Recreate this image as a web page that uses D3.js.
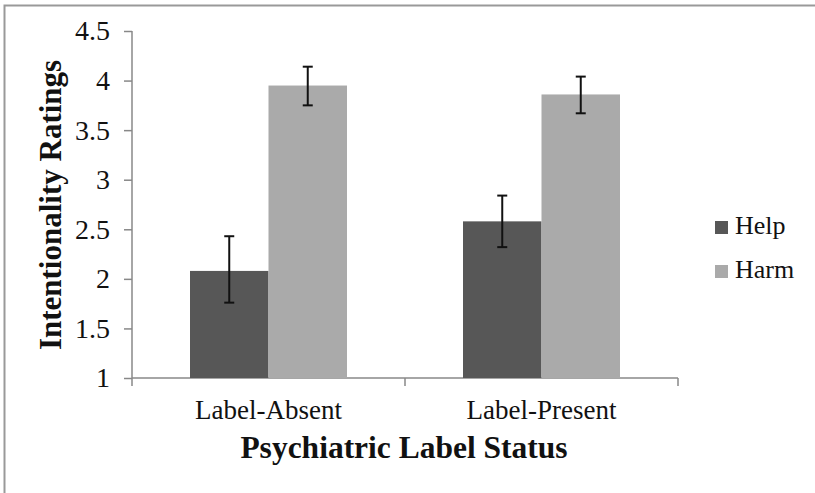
<html>
<head>
<script src="https://d3js.org/d3.v7.min.js"></script>
<style>
body { margin: 0; background: #fff; }
</style>
</head>
<body>
<script>
var conditions = ["Label-Absent", "Label-Present"];
var series = ["Help", "Harm"];
var helpMeans = [2.08, 2.58];
var harmMeans = [3.95, 3.86];
var helpErrLo = [1.76, 2.32];
var helpErrHi = [2.43, 2.84];
var harmErrLo = [3.75, 3.67];
var harmErrHi = [4.14, 4.04];
var yTicks = [1, 1.5, 2, 2.5, 3, 3.5, 4, 4.5];
var colors = ["#575757", "#aaaaaa"];

var svg = d3.select("body").append("svg")
  .attr("width", 815).attr("height", 493);

// outer frame (only top and left visible)
svg.append("path")
  .attr("d", "M4.5,493 V5.5 H815")
  .attr("fill", "none").attr("stroke", "#999").attr("stroke-width", 2);

var x = d3.scaleBand().domain(conditions).range([132, 678]);
var xs = d3.scaleBand().domain(series).range([58, x.bandwidth() - 58]);
var y = d3.scaleLinear().domain([1, 4.5]).range([378, 31]);

var font = "'Liberation Serif', 'Times New Roman', serif";

// y axis
var yAxis = svg.append("g").attr("transform", "translate(132,0)")
  .call(d3.axisLeft(y).tickValues(yTicks).tickSize(8).tickPadding(14)
    .tickFormat(function(d){ return d; }));
yAxis.selectAll("path,line").attr("stroke", "#888").attr("stroke-width", 1.5);
yAxis.select(".domain").attr("d", "M0," + y(4.5) + "V" + y(1));
yAxis.selectAll("text")
  .attr("font-family", font).attr("font-size", 28).attr("fill", "#111");

// x axis
var xAxis = svg.append("g").attr("transform", "translate(0,378)");
xAxis.append("line").attr("x1", 132).attr("x2", 678).attr("stroke", "#888").attr("stroke-width", 1.5);
xAxis.selectAll("line.tick").data([132, 405, 678]).enter().append("line")
  .attr("class", "tick")
  .attr("x1", function(d){ return d; }).attr("x2", function(d){ return d; })
  .attr("y1", 0).attr("y2", 8).attr("stroke", "#888").attr("stroke-width", 1.5);
xAxis.selectAll("text").data(conditions).enter().append("text")
  .attr("x", function(d){ return x(d) + x.bandwidth() / 2; })
  .attr("y", 41)
  .attr("text-anchor", "middle")
  .attr("font-family", font).attr("font-size", 27).attr("fill", "#111")
  .text(function(d){ return d; });

// bars
var rows = [];
conditions.forEach(function(c, i) {
  rows.push({c: c, s: "Help", v: helpMeans[i], lo: helpErrLo[i], hi: helpErrHi[i]});
  rows.push({c: c, s: "Harm", v: harmMeans[i], lo: harmErrLo[i], hi: harmErrHi[i]});
});

svg.selectAll("rect.bar").data(rows).enter().append("rect")
  .attr("class", "bar")
  .attr("x", function(d){ return x(d.c) + xs(d.s); })
  .attr("y", function(d){ return y(d.v); })
  .attr("width", xs.bandwidth())
  .attr("height", function(d){ return y(1) - y(d.v); })
  .attr("fill", function(d){ return colors[series.indexOf(d.s)]; });

// error bars
var eb = svg.selectAll("g.err").data(rows).enter().append("g")
  .attr("transform", function(d){ return "translate(" + (x(d.c) + xs(d.s) + xs.bandwidth() / 2) + ",0)"; });
eb.append("line").attr("y1", function(d){ return y(d.lo); }).attr("y2", function(d){ return y(d.hi); })
  .attr("stroke", "#111").attr("stroke-width", 2);
eb.append("line").attr("x1", -5).attr("x2", 5)
  .attr("y1", function(d){ return y(d.hi); }).attr("y2", function(d){ return y(d.hi); })
  .attr("stroke", "#111").attr("stroke-width", 2);
eb.append("line").attr("x1", -5).attr("x2", 5)
  .attr("y1", function(d){ return y(d.lo); }).attr("y2", function(d){ return y(d.lo); })
  .attr("stroke", "#111").attr("stroke-width", 2);

// axis titles
svg.append("text")
  .attr("transform", "translate(61,205) rotate(-90)")
  .attr("text-anchor", "middle")
  .attr("font-family", font).attr("font-size", 31).attr("font-weight", "bold").attr("fill", "#111")
  .text("Intentionality Ratings");
svg.append("text")
  .attr("x", 404).attr("y", 458)
  .attr("text-anchor", "middle")
  .attr("font-family", font).attr("font-size", 31.5).attr("font-weight", "bold").attr("fill", "#111")
  .text("Psychiatric Label Status");

// legend
var legend = svg.selectAll("g.leg").data(series).enter().append("g")
  .attr("transform", function(d, i){ return "translate(715," + (221 + i * 44) + ")"; });
legend.append("rect").attr("width", 13).attr("height", 13)
  .attr("fill", function(d, i){ return colors[i]; });
legend.append("text")
  .attr("x", 20).attr("y", 12.5)
  .attr("font-family", font).attr("font-size", 26).attr("fill", "#111")
  .text(function(d){ return d; });
</script>
</body>
</html>
